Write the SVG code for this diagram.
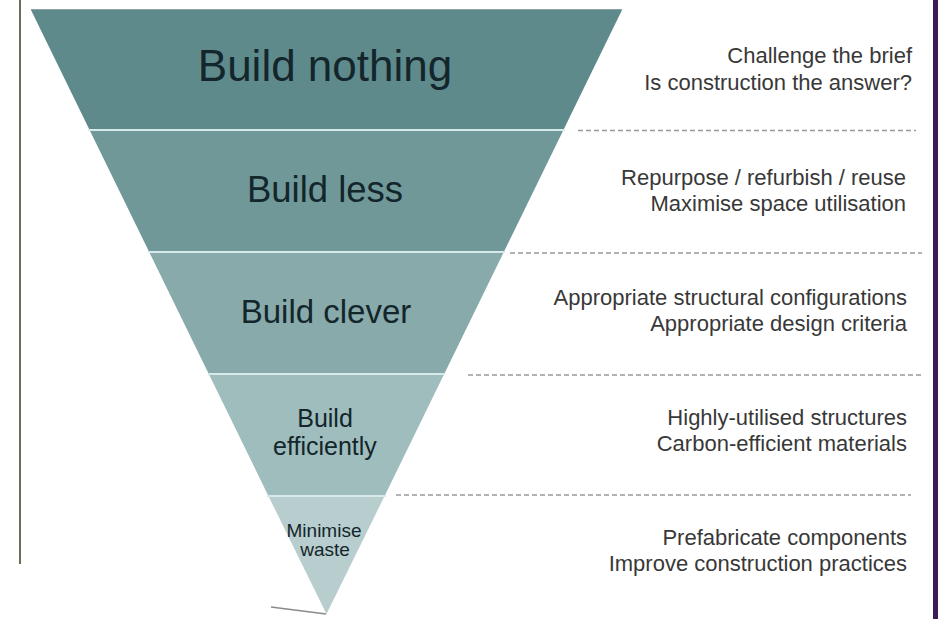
<svg xmlns="http://www.w3.org/2000/svg" width="938" height="619" viewBox="0 0 938 619">
  <style>
    .tier-label { font-family: "Liberation Sans", Arial, sans-serif; fill: #13262b; text-anchor: middle; }
    .note { font-family: "Liberation Sans", Arial, sans-serif; font-size: 22px; fill: #383838; text-anchor: end; }
    .sep { stroke: #d6e9eb; stroke-width: 2; }
    .dash { stroke: #9a9a9a; stroke-width: 1.3; stroke-dasharray: 5 3; fill: none; }
  </style>

  <rect x="0" y="0" width="938" height="619" fill="#ffffff"/>

  <!-- frame lines -->
  <line x1="20" y1="0" x2="20" y2="564" stroke="#6a6d55" stroke-width="2"/>
  <rect x="933" y="0" width="5" height="619" fill="#3b1c57"/>

  <!-- hierarchy tiers, widest at the top -->
  <g id="tier-build-nothing">
    <polygon points="31,10 622,10 563.4,130 89.6,130" fill="#5f8a8b"/>
    <line x1="31" y1="9.5" x2="622" y2="9.5" stroke="#8aa0a2" stroke-width="1"/>
    <text class="tier-label" x="325" y="81" font-size="44">Build nothing</text>
  </g>
  <g id="tier-build-less">
    <polygon points="89.6,130 563.4,130 503.8,252 149.2,252" fill="#719899"/>
    <text class="tier-label" x="325" y="202" font-size="36.5">Build less</text>
  </g>
  <g id="tier-build-clever">
    <polygon points="149.2,252 503.8,252 444.2,374 208.8,374" fill="#88aaab"/>
    <text class="tier-label" x="326" y="323" font-size="33">Build clever</text>
  </g>
  <g id="tier-build-efficiently">
    <polygon points="208.8,374 444.2,374 384.6,496 268.4,496" fill="#a0bdbe"/>
    <text class="tier-label" x="325" y="427" font-size="25">Build</text>
    <text class="tier-label" x="325" y="455" font-size="25">efficiently</text>
  </g>
  <g id="tier-minimise-waste">
    <polygon points="268.4,496 384.6,496 326.5,614" fill="#b8cdce"/>
    <text class="tier-label" x="324" y="537" font-size="19">Minimise</text>
    <text class="tier-label" x="325" y="556" font-size="19">waste</text>
  </g>

  <!-- tier separators -->
  <g id="separators">
    <line class="sep" x1="88" y1="130" x2="565" y2="130"/>
    <line class="sep" x1="148" y1="252" x2="505" y2="252"/>
    <line class="sep" x1="208" y1="374" x2="445" y2="374"/>
    <line class="sep" x1="267" y1="496" x2="386" y2="496"/>
  </g>

  <!-- dashed leaders to the notes -->
  <g id="connectors">
    <line class="dash" x1="578" y1="130.5" x2="916" y2="130.5"/>
    <line class="dash" x1="510" y1="253" x2="922" y2="253"/>
    <line class="dash" x1="468" y1="375" x2="922" y2="375"/>
    <line class="dash" x1="396" y1="495" x2="911" y2="495"/>
    <line x1="271" y1="607" x2="326" y2="614" stroke="#8a8a8a" stroke-width="1.5"/>
  </g>

  <!-- notes -->
  <g id="note-nothing">
    <text class="note" x="912" y="63">Challenge the brief</text>
    <text class="note" x="912" y="90">Is construction the answer?</text>
  </g>
  <g id="note-less">
    <text class="note" x="906" y="185">Repurpose / refurbish / reuse</text>
    <text class="note" x="906" y="211">Maximise space utilisation</text>
  </g>
  <g id="note-clever">
    <text class="note" x="907" y="305">Appropriate structural configurations</text>
    <text class="note" x="907" y="331">Appropriate design criteria</text>
  </g>
  <g id="note-efficiently">
    <text class="note" x="907" y="425">Highly-utilised structures</text>
    <text class="note" x="907" y="451">Carbon-efficient materials</text>
  </g>
  <g id="note-waste">
    <text class="note" x="907" y="545">Prefabricate components</text>
    <text class="note" x="907" y="571">Improve construction practices</text>
  </g>
</svg>
